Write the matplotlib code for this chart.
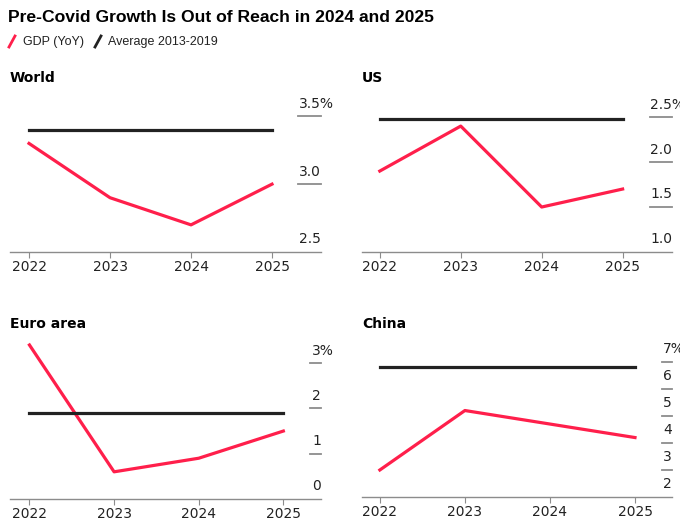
import matplotlib.pyplot as plt
from matplotlib.lines import Line2D
from matplotlib.transforms import offset_copy

years = [2022, 2023, 2024, 2025]

world_gdp = [3.3, 2.9, 2.7, 3.0]
world_avg = 3.4
us_gdp = [1.9, 2.4, 1.5, 1.7]
us_avg = 2.48
euro_gdp = [3.4, 0.6, 0.9, 1.5]
euro_avg = 1.9
china_gdp = [3.0, 5.2, 4.7, 4.2]
china_avg = 6.8

world_ticks = [2.5, 3.0, 3.5]
world_labels = ["2.5", "3.0", "3.5%"]
us_ticks = [1.0, 1.5, 2.0, 2.5]
us_labels = ["1.0", "1.5", "2.0", "2.5%"]
euro_ticks = [0, 1, 2, 3]
euro_labels = ["0", "1", "2", "3%"]
china_ticks = [2, 3, 4, 5, 6, 7]
china_labels = ["2", "3", "4", "5", "6", "7%"]

RED = "#ff1f4b"
DARK = "#222222"
GRAY = "#8c8c8c"
W, H = 680, 523

fig = plt.figure(figsize=(6.8, 5.23), dpi=100)
plt.rcParams['font.family'] = ['DejaVu Sans']


def px_axes(left, right, bottom, top):
    return fig.add_axes([left / W, 1 - bottom / H, (right - left) / W, (bottom - top) / H])


def panel(ax, name, name_xy, gdp, avg, ticks, labels, tick_len, xlim, ylim):
    ax.plot(years, gdp, color=RED, lw=2.3, clip_on=False)
    ax.plot([years[0], years[-1]], [avg, avg], color=DARK, lw=2.3, clip_on=False)
    ax.set_xlim(*xlim)
    ax.set_ylim(*ylim)
    for s in ['top', 'left', 'right']:
        ax.spines[s].set_visible(False)
    ax.spines['bottom'].set_color(GRAY)
    ax.spines['bottom'].set_linewidth(1.0)
    ax.set_xticks(years)
    ax.set_xticklabels([str(y) for y in years], fontsize=10, color="#222222")
    ax.tick_params(axis='x', length=4, color=GRAY, pad=2)
    ax.set_yticks([])
    tr = ax.get_yaxis_transform()
    txt_tr = offset_copy(tr, fig=fig, x=0, y=4, units='points')
    pct_tr = offset_copy(tr, fig=fig, x=9.3, y=4, units='points')
    for t, lab in zip(ticks, labels):
        if t != ticks[0]:
            ax.plot([1.0 - tick_len, 1.0], [t, t], transform=tr, color=GRAY, lw=1.3, clip_on=False)
        ax.text(1.0, t, lab, transform=pct_tr if lab.endswith('%') else txt_tr,
                ha='right', va='bottom', fontsize=10, color="#222222")
    fig.text(name_xy[0] / W, 1 - name_xy[1] / H, name, fontsize=10, fontweight='bold',
             ha='left', va='center')


ax1 = px_axes(10, 321, 252, 100)
panel(ax1, "World", (10, 78), world_gdp, world_avg, world_ticks, world_labels, 0.074,
      (2021.765, 2025.605), (2.5, 3.62))
ax2 = px_axes(362, 672, 252, 100)
panel(ax2, "US", (362, 78), us_gdp, us_avg, us_ticks, us_labels, 0.071,
      (2021.78, 2025.61), (1.0, 2.69))
ax3 = px_axes(10, 321, 499, 340)
panel(ax3, "Euro area", (10, 324), euro_gdp, euro_avg, euro_ticks, euro_labels, 0.035,
      (2021.77, 2025.445), (0, 3.51))
ax4 = px_axes(362, 672, 497, 340)
panel(ax4, "China", (362, 324), china_gdp, china_avg, china_ticks, china_labels, 0.032,
      (2021.79, 2025.435), (2, 7.81))

fig.text(8 / W, 1 - 17 / H, "Pre-Covid Growth Is Out of Reach in 2024 and 2025",
         fontsize=12.6, fontweight='bold', family='Liberation Sans', ha='left', va='center')
fig.add_artist(Line2D([9 / W, 15 / W], [1 - 47 / H, 1 - 36 / H], color=RED, lw=2))
fig.text(23 / W, 1 - 41.5 / H, "GDP (YoY)", fontsize=9, family='Liberation Sans',
         ha='left', va='center', color="#222222")
fig.add_artist(Line2D([95 / W, 101 / W], [1 - 47 / H, 1 - 36 / H], color=DARK, lw=2))
fig.text(108 / W, 1 - 41.5 / H, "Average 2013-2019", fontsize=9, family='Liberation Sans',
         ha='left', va='center', color="#222222")

fig.savefig("out.png", dpi=100)
